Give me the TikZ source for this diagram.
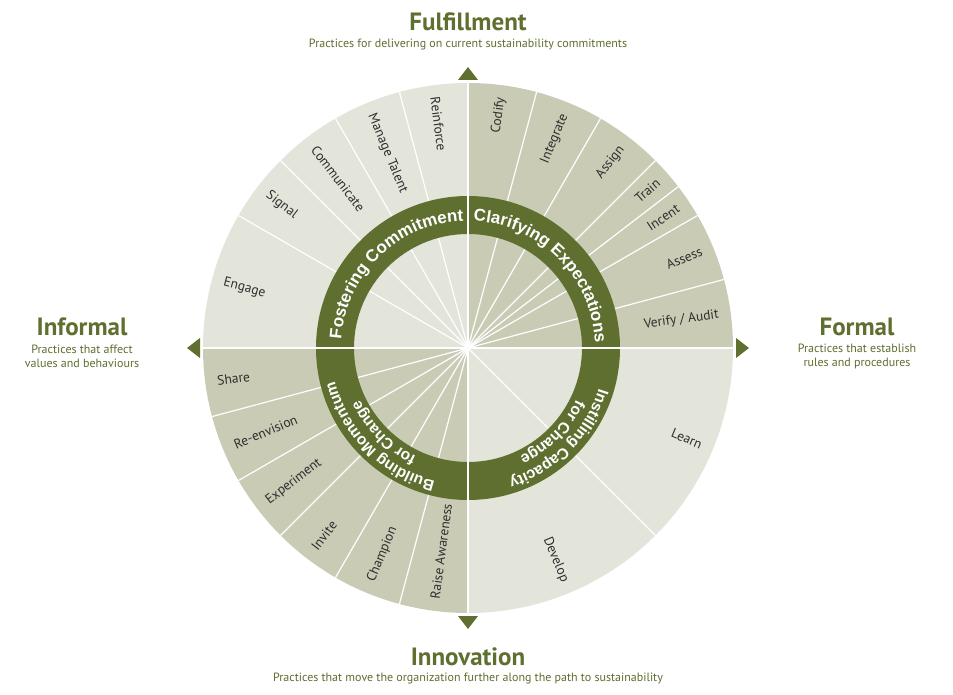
\documentclass[tikz,border=0pt]{standalone}
\usepackage{fontspec}
\setmainfont{PT Sans}
\newfontfamily\ringfont{Liberation Sans}
\usetikzlibrary{decorations.text}
\definecolor{lt}{HTML}{E3E4DA}
\definecolor{dk}{HTML}{C9CBB5}
\definecolor{gr}{HTML}{5E6F30}
\definecolor{tx}{HTML}{2E2E2E}
\tikzset{lab/.style={font=\fontsize{13.5}{15}\selectfont, text=tx, inner sep=0pt},
 title/.style={font=\fontsize{25}{28}\selectfont\bfseries, text=gr},
 sub/.style={font=\fontsize{12}{14}\selectfont, text=gr, align=center},
 tri/.style={fill=gr},
 spoke/.style={white, line width=1.2pt}}
\newcommand{\rtext}[5]{\path[decorate,decoration={text along path, text align={center},
  text={|\ringfont\bfseries\fontsize{#5}{#5}\selectfont\color{white}|#4}}]
  (#1:#3) arc[start angle=#1, end angle=#2, radius=#3];}
\begin{document}
\begin{tikzpicture}[x=1pt,y=1pt]
\useasboundingbox[fill=white] (0,0) rectangle (953,694);
\begin{scope}[shift={(468,346)}]
\foreach \a/\b/\c/\t in {90/75/dk/Codify,75/60/dk/Integrate,60/45/dk/Assign,45/37.5/dk/Train,37.5/30/dk/Incent,30/15/dk/Assess,15/0/dk/{Verify / Audit},0/-45/lt/Learn,-45/-90/lt/Develop}{
  \fill[\c] (0,0) -- (\a:265) arc[start angle=\a, end angle=\b, radius=265] -- cycle;
  \pgfmathsetmacro\m{(\a+\b)/2}
  \node[lab, rotate=\m, anchor=east] (r\a) at (\m:253) {\t};
}
\foreach \a/\b/\c/\t in {90/105/lt/Reinforce,105/120/lt/Manage Talent,120/135/lt/Communicate,135/150/lt/Signal,150/180/lt/Engage,180/195/dk/Share,195/210/dk/Re-envision,210/225/dk/Experiment,225/240/dk/Invite,240/255/dk/Champion,255/270/dk/Raise Awareness}{
  \fill[\c] (0,0) -- (\a:265) arc[start angle=\a, end angle=\b, radius=265] -- cycle;
  \pgfmathsetmacro\m{(\a+\b)/2}
  \node[lab, rotate=\m-180, anchor=west] (l\a) at (\m:253) {\t};
}
\foreach \a in {75,60,45,37.5,30,15,-45,105,120,135,150,195,210,225,240,255}
  \draw[spoke] (0,0) -- (\a:265);
\fill[gr, even odd rule] (0,0) circle[radius=152] (0,0) circle[radius=114];
\draw[white, line width=1.6pt] (-265,0) -- (265,0) (0,-265) -- (0,265);
\rtext{177}{91}{127}{Fostering Commitment}{17}
\rtext{89}{1}{127}{Clarifying Expectations}{17}
\rtext{-2}{-88}{137}{Instilling Capacity}{15.5}
\rtext{-2}{-88}{120}{for Change}{15.5}
\rtext{268}{182}{137}{Building Momentum}{15.5}
\rtext{268}{182}{120}{for Change}{15.5}
\fill[tri] (-10,268) -- (10,268) -- (0,281) -- cycle;
\fill[tri] (-10,-268) -- (10,-268) -- (0,-281) -- cycle;
\fill[tri] (268,-10) -- (268,10) -- (281,0) -- cycle;
\fill[tri] (-268,-10) -- (-268,10) -- (-281,0) -- cycle;
\end{scope}
\node[title] (t1) at (468,672) {Fulfillment};
\node[sub] (s1) at (468,649) {Practices for delivering on current sustainability commitments};
\node[title] (t2) at (468,37) {Innovation};
\node[sub] (s2) at (468,15) {Practices that move the organization further along the path to sustainability};
\node[title] (t3) at (82,367) {Informal};
\node[sub] (s3) at (82,338) {Practices that affect\\values and behaviours};
\node[title] (t4) at (857,367) {Formal};
\node[sub] (s4) at (857,338) {Practices that establish\\rules and procedures};
\end{tikzpicture}
\end{document}
